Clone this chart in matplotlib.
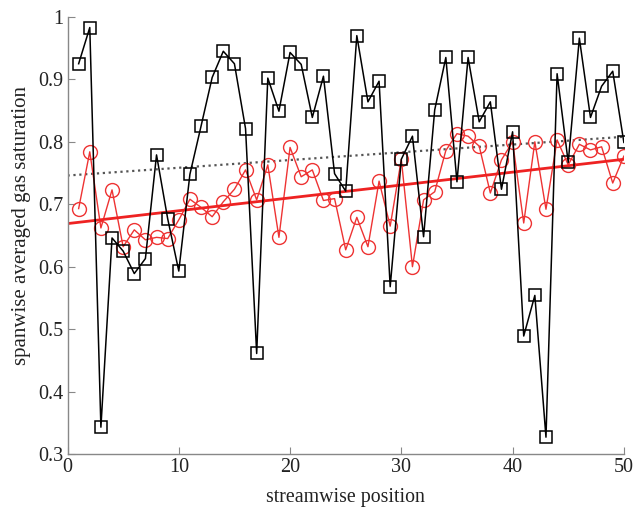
import matplotlib
matplotlib.use("Agg")
import matplotlib.pyplot as plt
import numpy as np

plt.rcParams['font.family'] = ['Liberation Serif', 'DejaVu Serif']

positions = list(range(1, 51))
black_sq = [0.925, 0.983, 0.343, 0.646, 0.625, 0.589, 0.613, 0.779, 0.677, 0.593,
            0.748, 0.825, 0.903, 0.945, 0.925, 0.821, 0.461, 0.902, 0.849, 0.943,
            0.924, 0.839, 0.905, 0.749, 0.721, 0.970, 0.864, 0.897, 0.568, 0.772,
            0.809, 0.648, 0.851, 0.935, 0.736, 0.935, 0.832, 0.864, 0.724, 0.816,
            0.489, 0.554, 0.327, 0.909, 0.767, 0.966, 0.839, 0.889, 0.913, 0.799]
red_circ = [0.693, 0.784, 0.662, 0.723, 0.632, 0.659, 0.643, 0.647, 0.645, 0.675,
            0.708, 0.695, 0.680, 0.704, 0.724, 0.755, 0.707, 0.763, 0.647, 0.791,
            0.744, 0.755, 0.706, 0.709, 0.627, 0.679, 0.632, 0.737, 0.665, 0.772,
            0.600, 0.707, 0.720, 0.786, 0.813, 0.809, 0.793, 0.718, 0.771, 0.800,
            0.670, 0.800, 0.692, 0.803, 0.763, 0.796, 0.787, 0.792, 0.734, 0.777]
trend_x = [0, 50]
red_trend = [0.669, 0.772]
black_trend = [0.746, 0.808]

xticks = [0, 10, 20, 30, 40, 50]
yticks = [0.3, 0.4, 0.5, 0.6, 0.7, 0.8, 0.9, 1.0]
ytick_labels = ['0.3', '0.4', '0.5', '0.6', '0.7', '0.8', '0.9', '1']

fig = plt.figure(figsize=(6.34, 5.09), dpi=100)
ax = fig.add_axes([0.1065, 0.108, 0.8775, 0.8588])

ax.plot(trend_x, black_trend, color='#555555', linestyle=':', linewidth=1.6, zorder=1)
ax.plot(positions, black_sq, color='black', linewidth=1.1, marker='s', markersize=9,
        markerfacecolor='none', markeredgecolor='black', markeredgewidth=1.1, zorder=3)
ax.plot(positions, red_circ, color='#ee3333', linewidth=1.0, marker='o', markersize=10,
        markerfacecolor='none', markeredgecolor='#ee3333', markeredgewidth=1.0, zorder=2)
ax.plot(trend_x, red_trend, color='#ee2222', linewidth=2.0, zorder=2)

ax.set_xlim(0, 50)
ax.set_ylim(0.3, 1.0)
ax.set_xticks(xticks)
ax.set_yticks(yticks)
ax.set_yticklabels(ytick_labels)
for s in ['top', 'right']:
    ax.spines[s].set_visible(False)
for s in ['left', 'bottom']:
    ax.spines[s].set_color('#888888')
    ax.spines[s].set_linewidth(1.0)
ax.tick_params(direction='in', length=5, color='#888888', labelsize=14.5, labelcolor='#222222', pad=3)
ax.set_xlabel('streamwise position', fontsize=14.3, color='#222222', labelpad=8)
ax.set_ylabel('spanwise averaged gas saturation', fontsize=15, color='#222222', labelpad=5)
ax.yaxis.label.set_y(0.523)

fig.savefig('out.png', dpi=100)
